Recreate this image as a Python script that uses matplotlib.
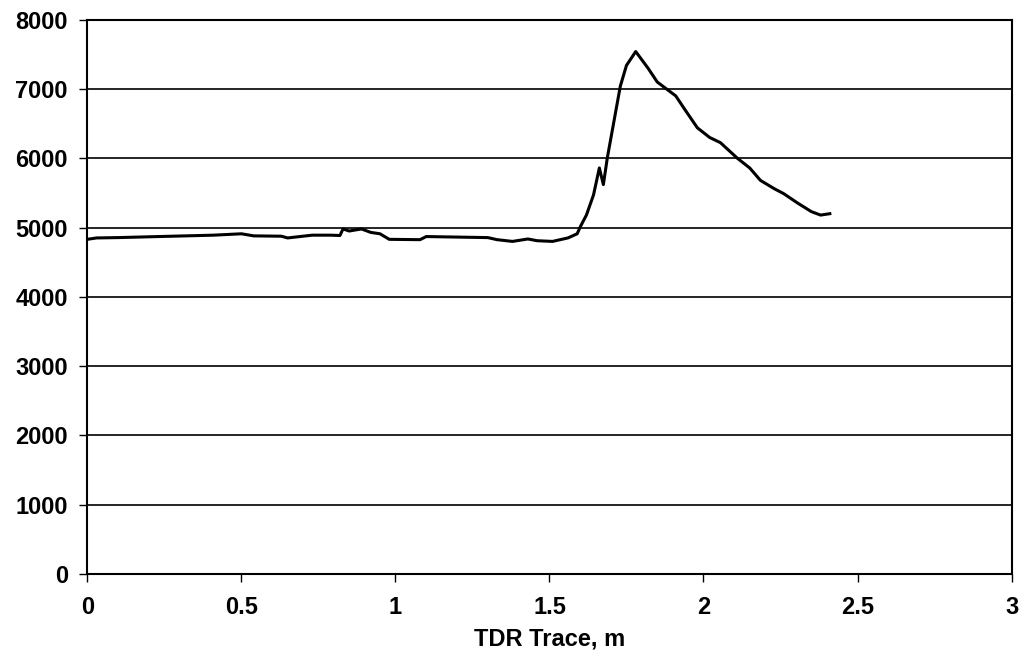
import matplotlib
matplotlib.use("Agg")
import matplotlib.pyplot as plt

# TDR trace
dist = [0.00, 0.03, 0.10, 0.23, 0.41, 0.50, 0.54, 0.63, 0.65, 0.73, 0.79,
        0.82, 0.83, 0.85, 0.89, 0.92, 0.95, 0.98, 1.08, 1.10, 1.30, 1.33,
        1.38, 1.43, 1.46, 1.51, 1.56, 1.59, 1.60, 1.62, 1.643, 1.662, 1.675,
        1.688, 1.708, 1.73, 1.75, 1.78, 1.82, 1.85, 1.88, 1.91, 1.94, 1.98,
        2.02, 2.055, 2.11, 2.15, 2.185, 2.23, 2.26, 2.305, 2.35, 2.38, 2.41]
signal = [4830, 4850, 4855, 4870, 4890, 4910, 4880, 4875, 4850, 4890, 4890,
          4885, 4980, 4950, 4980, 4930, 4910, 4830, 4825, 4870, 4855, 4825,
          4800, 4835, 4810, 4800, 4850, 4910, 5010, 5180, 5470, 5860, 5620,
          6010, 6500, 7040, 7340, 7540, 7300, 7100, 7000, 6900, 6700, 6440,
          6300, 6225, 6000, 5860, 5680, 5560, 5490, 5355, 5230, 5180, 5200]

xticks = [0, 0.5, 1, 1.5, 2, 2.5, 3]
xtick_labels = ["0", "0.5", "1", "1.5", "2", "2.5", "3"]
yticks = [0, 1000, 2000, 3000, 4000, 5000, 6000, 7000, 8000]

plt.rcParams['font.family'] = ['Liberation Sans', 'DejaVu Sans']
plt.rcParams['font.weight'] = 'bold'

fig = plt.figure(figsize=(10.27, 6.56), dpi=100)
ax = fig.add_axes([0.085, 0.125, 0.9, 0.845])

ax.plot(dist, signal, color='black', linewidth=2.2)

ax.set_xlim(0, 3)
ax.set_ylim(0, 8000)
ax.set_xticks(xticks)
ax.set_xticklabels(xtick_labels)
ax.set_yticks(yticks)
ax.yaxis.grid(True, color='black', linewidth=1.2)
ax.tick_params(axis='both', labelsize=17, direction='out', length=6, width=1, colors='black')
ax.tick_params(axis='x', pad=10)
ax.tick_params(axis='y', pad=8)
for s in ax.spines.values():
    s.set_linewidth(1.5)
    s.set_color('black')

ax.set_xlabel("TDR Trace, m", fontsize=17, fontweight='bold', labelpad=6)

fig.savefig("out.png", dpi=100)
